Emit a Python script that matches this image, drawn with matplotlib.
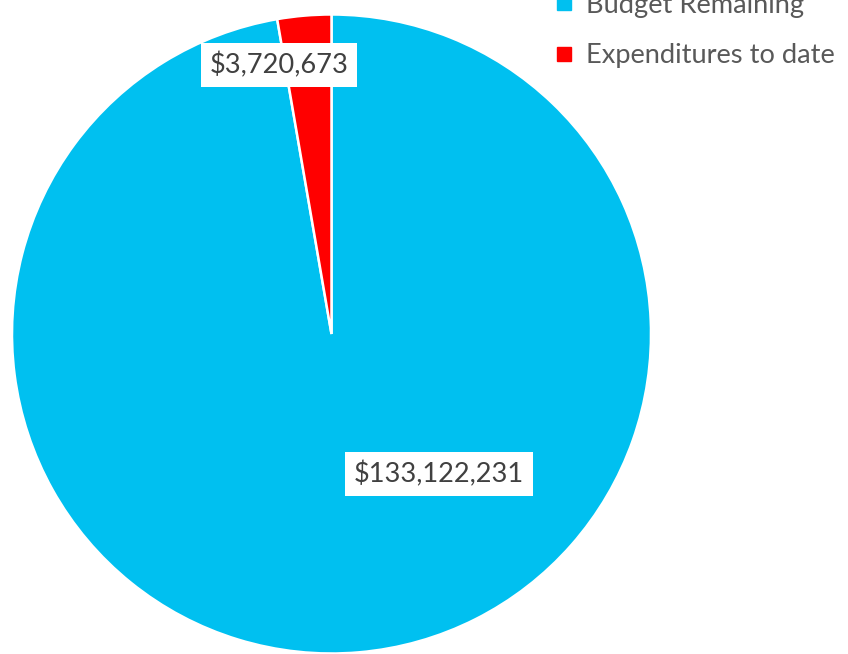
import matplotlib
matplotlib.use("Agg")
import matplotlib.pyplot as plt
from matplotlib.lines import Line2D

categories = ["Budget Remaining", "Expenditures to date"]
values = [133122231, 3720673]
colors = ["#00C0F0", "#FF0000"]
explode = [0.0, 0.018]

W, H = 848, 654
fig = plt.figure(figsize=(W / 100, H / 100), dpi=100)
ax = fig.add_axes([0, 0, 1, 1])

cx, cy, r = 331.5, H - 334, 319.5
wedges, _ = ax.pie(values, colors=colors, startangle=90, counterclock=False,
                   explode=explode, center=(cx, cy), radius=r, frame=True,
                   wedgeprops=dict(edgecolor="white", linewidth=1.8))
ax.set_xlim(0, W)
ax.set_ylim(0, H)
ax.set_aspect("equal")
ax.axis("off")

font = ["Lato", "DejaVu Sans"]
fs = 19.6
label_pos = [(439, H - 474), (279, H - 65)]
for v, (x, y) in zip(values, label_pos):
    ax.text(x, y, f"${v:,.0f}", ha="center", va="center", fontsize=fs,
            color="#404040", family=font,
            bbox=dict(boxstyle="square,pad=0.33", facecolor="white",
                      edgecolor="none"))

handles = [Line2D([], [], marker="s", linestyle="none", markersize=10,
                  markerfacecolor=c, markeredgecolor=c) for c in colors]
leg = fig.legend(handles, categories, loc="upper left",
                 bbox_to_anchor=(530 / W, 1 + 32 / H), frameon=False,
                 labelspacing=0.95, handlelength=0.7,
                 handletextpad=0.45, prop=dict(family=font, size=fs))
for t in leg.get_texts():
    t.set_color("#595959")

fig.savefig("out.png", dpi=100, facecolor="white")
